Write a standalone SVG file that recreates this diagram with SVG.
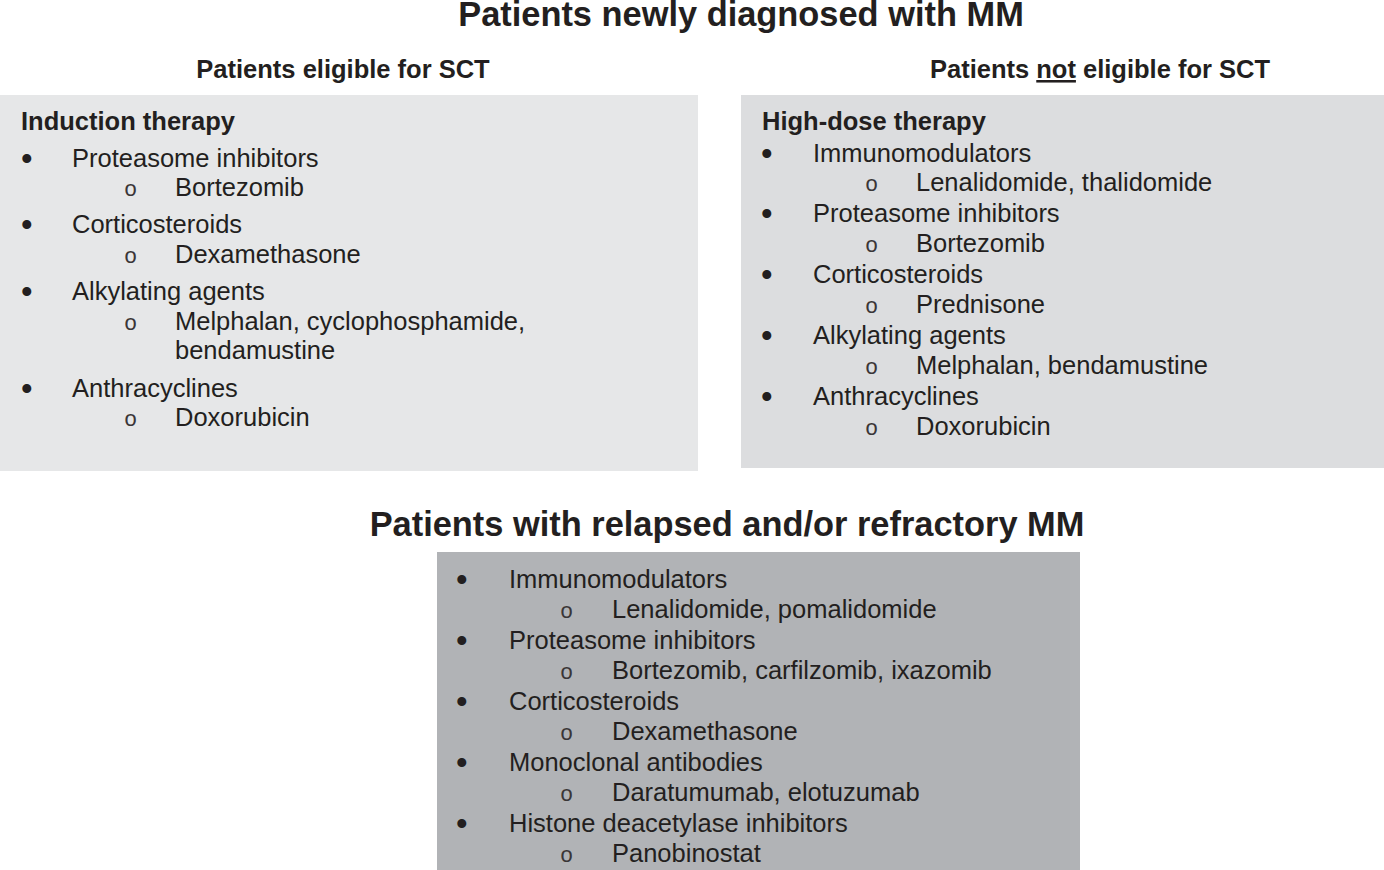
<svg xmlns="http://www.w3.org/2000/svg" width="1384" height="870" viewBox="0 0 1384 870">
<style>
text{font-family:"Liberation Sans",Arial,sans-serif;fill:#231f20}
.t{font-size:34.4px;font-weight:bold;text-anchor:middle}
.h{font-size:25.5px;font-weight:bold}
.r{font-size:25.5px}
.b{font-size:33px}
.o{font-family:"Liberation Mono","Courier New",monospace;font-size:22px;fill:#3a3637}
</style>
<rect width="1384" height="870" fill="#ffffff"/>
<g transform="translate(0,1)">
<text class="t" x="741" y="25">Patients newly diagnosed with MM</text>
<text class="h" x="343" y="77" text-anchor="middle">Patients eligible for SCT</text>
<text class="h" x="1100" y="77" text-anchor="middle">Patients <tspan text-decoration="underline">not</tspan> eligible for SCT</text>
</g>
<g id="eligible">
<rect x="0" y="95" width="698" height="376" fill="#e6e7e8"/>
<g transform="translate(0,1)">
<text class="h" x="21" y="129">Induction therapy</text>
<text class="b" x="21" y="169">•</text><text class="r" x="72" y="166">Proteasome inhibitors</text>
<text class="o" x="124" y="195">o</text><text class="r" x="175" y="195">Bortezomib</text>
<text class="b" x="21" y="235">•</text><text class="r" x="72" y="232">Corticosteroids</text>
<text class="o" x="124" y="262">o</text><text class="r" x="175" y="262">Dexamethasone</text>
<text class="b" x="21" y="302">•</text><text class="r" x="72" y="299">Alkylating agents</text>
<text class="o" x="124" y="329">o</text><text class="r" x="175" y="329">Melphalan, cyclophosphamide,</text>
<text class="r" x="175" y="358">bendamustine</text>
<text class="b" x="21" y="399">•</text><text class="r" x="72" y="396">Anthracyclines</text>
<text class="o" x="124" y="425">o</text><text class="r" x="175" y="425">Doxorubicin</text>
</g>
</g>
<g id="not-eligible">
<rect x="741" y="95" width="643" height="373" fill="#dcdddf"/>
<g transform="translate(0,1)">
<text class="h" x="762" y="129">High-dose therapy</text>
<text class="b" x="761" y="164">•</text><text class="r" x="813" y="161">Immunomodulators</text>
<text class="o" x="865" y="190">o</text><text class="r" x="916" y="190">Lenalidomide, thalidomide</text>
<text class="b" x="761" y="224">•</text><text class="r" x="813" y="221">Proteasome inhibitors</text>
<text class="o" x="865" y="251">o</text><text class="r" x="916" y="251">Bortezomib</text>
<text class="b" x="761" y="285">•</text><text class="r" x="813" y="282">Corticosteroids</text>
<text class="o" x="865" y="312">o</text><text class="r" x="916" y="312">Prednisone</text>
<text class="b" x="761" y="346">•</text><text class="r" x="813" y="343">Alkylating agents</text>
<text class="o" x="865" y="373">o</text><text class="r" x="916" y="373">Melphalan, bendamustine</text>
<text class="b" x="761" y="407">•</text><text class="r" x="813" y="404">Anthracyclines</text>
<text class="o" x="865" y="434">o</text><text class="r" x="916" y="434">Doxorubicin</text>
</g>
</g>
<text class="t" x="727" y="536">Patients with relapsed and/or refractory MM</text>
<g id="relapsed">
<rect x="437" y="552" width="643" height="318" fill="#b1b3b6"/>
<g transform="translate(0,1)">
<text class="b" x="456" y="590">•</text><text class="r" x="509" y="587">Immunomodulators</text>
<text class="o" x="560" y="617">o</text><text class="r" x="612" y="617">Lenalidomide, pomalidomide</text>
<text class="b" x="456" y="651">•</text><text class="r" x="509" y="648">Proteasome inhibitors</text>
<text class="o" x="560" y="678">o</text><text class="r" x="612" y="678">Bortezomib, carfilzomib, ixazomib</text>
<text class="b" x="456" y="712">•</text><text class="r" x="509" y="709">Corticosteroids</text>
<text class="o" x="560" y="739">o</text><text class="r" x="612" y="739">Dexamethasone</text>
<text class="b" x="456" y="773">•</text><text class="r" x="509" y="770">Monoclonal antibodies</text>
<text class="o" x="560" y="800">o</text><text class="r" x="612" y="800">Daratumumab, elotuzumab</text>
<text class="b" x="456" y="834">•</text><text class="r" x="509" y="831">Histone deacetylase inhibitors</text>
<text class="o" x="560" y="861">o</text><text class="r" x="612" y="861">Panobinostat</text>
</g>
</g>
<g id="connectors"/>
</svg>
